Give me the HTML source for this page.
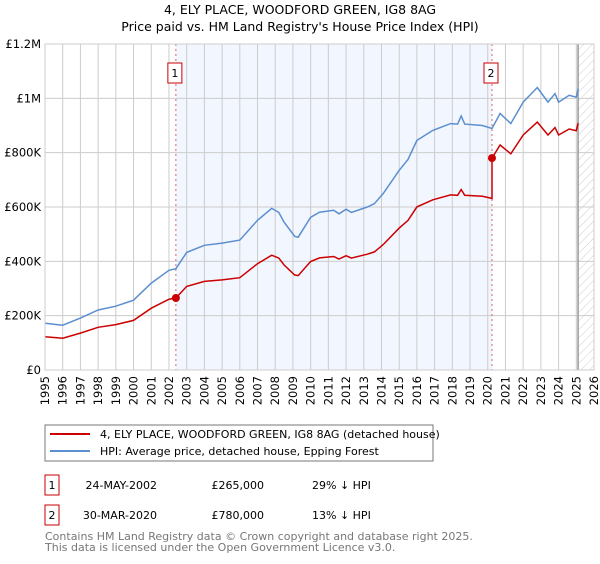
<!DOCTYPE html>
<html><head><meta charset="utf-8"><style>
body{margin:0;background:#fff;font-family:"DejaVu Sans","Liberation Sans",sans-serif;}
svg text{font-family:"DejaVu Sans","Liberation Sans",sans-serif;}
</style></head><body>
<svg id="chart" width="600" height="560" viewBox="0 0 600 560" xmlns="http://www.w3.org/2000/svg">
<defs><pattern id="hatch" patternUnits="userSpaceOnUse" width="6" height="6" patternTransform="rotate(45)"><line x1="0" y1="0" x2="0" y2="6" stroke="#ccc" stroke-width="1"/></pattern></defs>
<text x="300" y="14" text-anchor="middle" font-size="12.5">4, ELY PLACE, WOODFORD GREEN, IG8 8AG</text>
<text x="300" y="31" text-anchor="middle" font-size="12.5">Price paid vs. HM Land Registry's House Price Index (HPI)</text>
<g id="plot"></g>
<g>
<rect x="45" y="425" width="388" height="36" fill="#fff" stroke="#777"/>
<line x1="50" y1="434" x2="90" y2="434" stroke="#cc0000" stroke-width="2"/>
<text x="100" y="438" font-size="11">4, ELY PLACE, WOODFORD GREEN, IG8 8AG (detached house)</text>
<line x1="50" y1="451" x2="90" y2="451" stroke="#5b8fd0" stroke-width="2"/>
<text x="100" y="455" font-size="11">HPI: Average price, detached house, Epping Forest</text>
</g>
<g font-size="11">
<rect x="45" y="475" width="14" height="20" fill="#fff" stroke="#cc0000"/><text x="52" y="489" text-anchor="middle">1</text>
<text x="157" y="489" text-anchor="end">24-MAY-2002</text><text x="264" y="489" text-anchor="end">£265,000</text><text x="312" y="489">29% ↓ HPI</text>
<rect x="45" y="505" width="14" height="20" fill="#fff" stroke="#cc0000"/><text x="52" y="519" text-anchor="middle">2</text>
<text x="157" y="519" text-anchor="end">30-MAR-2020</text><text x="264" y="519" text-anchor="end">£780,000</text><text x="312" y="519">13% ↓ HPI</text>
</g>
<g font-size="11" fill="#777">
<text x="45" y="540">Contains HM Land Registry data © Crown copyright and database right 2025.</text>
<text x="45" y="551">This data is licensed under the Open Government Licence v3.0.</text>
</g>
</svg>
<script>
const hpiYears=[1995,1996,1997,1998,1999,2000,2001,2002,2002.39,2003,2004,2005,2006,2007,2007.8,2008.2,2008.5,2009.1,2009.3,2010,2010.5,2011.3,2011.6,2012,2012.3,2013.2,2013.6,2014.1,2015,2015.5,2016,2016.9,2017.9,2018.3,2018.5,2018.7,2019.7,2020.24,2020.7,2021.3,2022,2022.8,2023.4,2023.8,2024,2024.6,2025,2025.1];
const hpiValues=[172,165,191,221,235,257,320,367,373,433,459,467,478,551,595,580,544,492,489,562,581,588,575,592,580,600,612,650,735,775,845,882,907,905,935,905,900,889,944,907,986,1040,986,1017,986,1011,1004,1036];
const saleYears=[2002.39,2020.24];
const salePrices=[265,780];
const yTicks=[0,200,400,600,800,1000,1200];
const yTickLabels=["£0","£200K","£400K","£600K","£800K","£1M","£1.2M"];
const xTicks=[1995,1996,1997,1998,1999,2000,2001,2002,2003,2004,2005,2006,2007,2008,2009,2010,2011,2012,2013,2014,2015,2016,2017,2018,2019,2020,2021,2022,2023,2024,2025,2026];
const dataEnd=2025.1;
const X0=45,X1=594,Y0=370,Y1=44;
const xs=v=>X0+(v-1995)/(2026-1995)*(X1-X0);
const ys=v=>Y0-(v/1200)*(Y0-Y1);
const NS="http://www.w3.org/2000/svg";
const g=document.getElementById('plot');
function mk(t,a,p){const e=document.createElementNS(NS,t);for(const k in a)e.setAttribute(k,a[k]);(p||g).appendChild(e);return e;}
let e;
e=mk('rect',{x:xs(saleYears[0]),y:Y1,width:xs(saleYears[1])-xs(saleYears[0]),height:Y0-Y1,fill:'#f2f6fe'});


e=mk('rect',{x:xs(dataEnd),y:Y1,width:X1-xs(dataEnd),height:Y0-Y1,fill:'url(#hatch)'});


xTicks.forEach(t=>{
 e=mk('line',{x1:xs(t),x2:xs(t),y1:Y1,y2:Y0,stroke:'#ccc'});
 
 
 const tx=xs(t)+4,ty=Y0+6;
 e=mk('text',{x:tx,y:ty,'text-anchor':'end','font-size':'11.5',transform:'rotate(-90 '+tx+' '+ty+')'});e.textContent=t;
 
 
});
yTicks.forEach((t,i)=>{
 e=mk('line',{x1:X0,x2:X1,y1:ys(t),y2:ys(t),stroke:'#ccc'});
 
 
 e=mk('text',{x:X0-4,y:ys(t)+4,'text-anchor':'end','font-size':'11.5'});e.textContent=yTickLabels[i];
 
 
});
e=mk('line',{x1:xs(dataEnd),x2:xs(dataEnd),y1:Y1,y2:Y0,stroke:'#999','stroke-width':1.5});


function hpiAt(y){for(let i=0;i<hpiYears.length-1;i++){if(y<=hpiYears[i+1]){const f=(y-hpiYears[i])/(hpiYears[i+1]-hpiYears[i]);return hpiValues[i]+f*(hpiValues[i+1]-hpiValues[i]);}}return hpiValues[hpiValues.length-1];}
const r1=salePrices[0]/hpiAt(saleYears[0]),r2=salePrices[1]/hpiAt(saleYears[1]);
let hp='',rp='';
hpiYears.forEach((y,i)=>{hp+=(i?'L':'M')+xs(y).toFixed(1)+','+ys(hpiValues[i]).toFixed(1);});
hpiYears.forEach((y,i)=>{
 const r=y<saleYears[1]?r1:r2;
 if(y===saleYears[1]) rp+='L'+xs(y).toFixed(1)+','+ys(hpiValues[i]*r1).toFixed(1);
 rp+=(i?'L':'M')+xs(y).toFixed(1)+','+ys(hpiValues[i]*r).toFixed(1);
});
saleYears.forEach((s,i)=>{
 e=mk('line',{x1:xs(s),x2:xs(s),y1:Y1,y2:Y0,stroke:'#e06060','stroke-dasharray':'2,3'});
 
 
});
e=mk('path',{d:hp,fill:'none',stroke:'#5b8fd0','stroke-width':1.5});


e=mk('path',{d:rp,fill:'none',stroke:'#cc0000','stroke-width':1.5});


saleYears.forEach((s,i)=>{
 e=mk('circle',{cx:xs(s),cy:ys(salePrices[i]),r:4,fill:'#cc0000'});
 
 
 e=mk('rect',{x:xs(s)-8,y:63,width:14,height:20,fill:'#fff',stroke:'#cc0000'});
 
 
 e=mk('text',{x:xs(s)-1,y:77,'text-anchor':'middle','font-size':'11'});e.textContent=String(i+1);
 
 
});
e=mk('rect',{x:X0,y:Y1,width:X1-X0,height:Y0-Y1,fill:'none',stroke:'#ccc'});


</script>
</body></html>
